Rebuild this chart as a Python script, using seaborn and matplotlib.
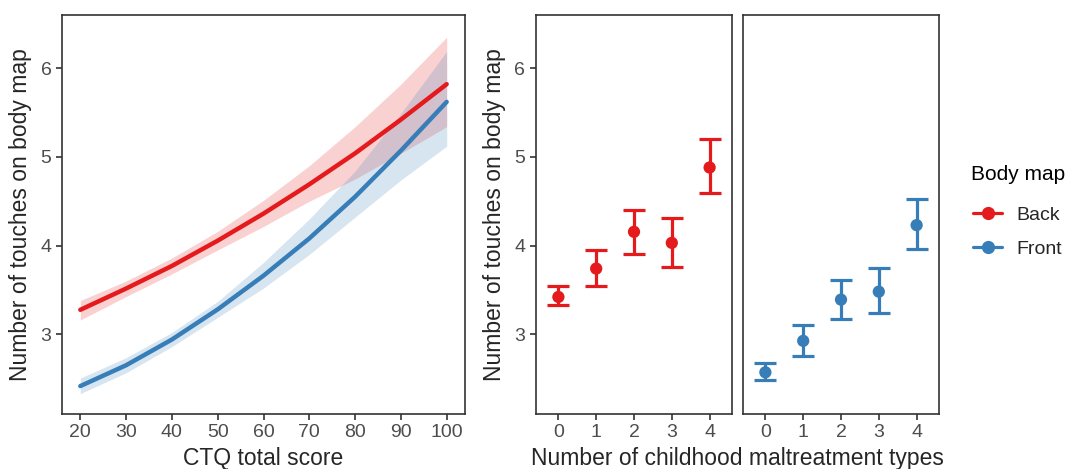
import matplotlib
matplotlib.use("Agg")
import matplotlib.pyplot as plt
from matplotlib.lines import Line2D
import seaborn as sns
import pandas as pd

# ---- data ----
ctq = [20, 30, 40, 50, 60, 70, 80, 90, 100]
back_fit = [3.275, 3.515, 3.77, 4.055, 4.36, 4.69, 5.04, 5.42, 5.82]
back_lo = [3.16, 3.425, 3.68, 3.95, 4.215, 4.50, 4.75, 5.04, 5.34]
back_hi = [3.38, 3.60, 3.86, 4.16, 4.51, 4.90, 5.34, 5.82, 6.35]
front_fit = [2.415, 2.65, 2.94, 3.28, 3.66, 4.08, 4.55, 5.07, 5.62]
front_lo = [2.33, 2.565, 2.86, 3.19, 3.52, 3.90, 4.32, 4.74, 5.12]
front_hi = [2.505, 2.735, 3.02, 3.37, 3.81, 4.30, 4.84, 5.49, 6.19]

n_types = [0, 1, 2, 3, 4]
back_mean = [3.42, 3.74, 4.155, 4.03, 4.88]
back_ci_lo = [3.33, 3.545, 3.91, 3.76, 4.59]
back_ci_hi = [3.54, 3.95, 4.40, 4.31, 5.20]
front_mean = [2.57, 2.925, 3.39, 3.48, 4.23]
front_ci_lo = [2.48, 2.75, 3.17, 3.24, 3.96]
front_ci_hi = [2.67, 3.105, 3.61, 3.75, 4.52]

groups = ["Back", "Front"]
legend_title = "Body map"
RED = "#E41A1C"
BLUE = "#377EB8"
palette = {"Back": RED, "Front": BLUE}

sns.set_theme(style="ticks")
plt.rcParams["font.family"] = ["Liberation Sans", "DejaVu Sans"]

W, H = 1068, 469
fig = plt.figure(figsize=(W / 100, H / 100), dpi=100)

def rect(x0, x1, y0, y1):
    return [x0 / W, 1 - y1 / H, (x1 - x0) / W, (y1 - y0) / H]

ax0 = fig.add_axes(rect(62, 465, 15, 414))
ax1 = fig.add_axes(rect(535.7, 732.3, 15, 414))
ax2 = fig.add_axes(rect(742.7, 939.3, 15, 414))

YLIM = (2.10, 6.60)
EDGE = "#333333"
TICKC = "#4D4D4D"

# ---- left panel: fitted curves with ribbons ----
line_df = pd.DataFrame({
    "CTQ": ctq * 2,
    "fit": back_fit + front_fit,
    "lo": back_lo + front_lo,
    "hi": back_hi + front_hi,
    "Body map": ["Back"] * len(ctq) + ["Front"] * len(ctq),
})
for g in groups:
    d = line_df[line_df["Body map"] == g]
    ax0.fill_between(d["CTQ"], d["lo"], d["hi"], color=palette[g], alpha=0.2, lw=0)
sns.lineplot(data=line_df, x="CTQ", y="fit", hue="Body map", palette=palette,
             ax=ax0, lw=3.2, legend=False, sort=True)
ax0.set_xlim(16, 104)
ax0.set_xticks([20, 30, 40, 50, 60, 70, 80, 90, 100])
ax0.set_xlabel("CTQ total score", fontsize=16.5, labelpad=4)
ax0.set_ylabel("Number of touches on body map", fontsize=16.5, labelpad=6)

# ---- right panels: means with CIs ----
pt_df = pd.DataFrame({
    "types": n_types * 2,
    "mean": back_mean + front_mean,
    "lo": back_ci_lo + front_ci_lo,
    "hi": back_ci_hi + front_ci_hi,
    "Body map": ["Back"] * 5 + ["Front"] * 5,
})
for ax, g in zip([ax1, ax2], groups):
    d = pt_df[pt_df["Body map"] == g]
    ax.errorbar(d["types"], d["mean"],
                yerr=[d["mean"] - d["lo"], d["hi"] - d["mean"]],
                fmt="none", ecolor=palette[g], elinewidth=2.3,
                capsize=7.8, capthick=2.3, zorder=2)
    sns.scatterplot(data=d, x="types", y="mean", color=palette[g], s=78,
                    edgecolor="none", ax=ax, zorder=3, legend=False)
    ax.set_xlim(-0.6, 4.6)
    ax.set_xticks(n_types)
    ax.set_xlabel("")
    ax.set_ylabel("")

ax1.set_ylabel("Number of touches on body map", fontsize=16.5, labelpad=6)
ax2.set_yticks([])
fig.text(737.5 / W, 1 - 458 / H, "Number of childhood maltreatment types",
         ha="center", va="center", fontsize=16.5)

for ax in [ax0, ax1, ax2]:
    ax.set_ylim(*YLIM)
    if ax is not ax2:
        ax.set_yticks([3, 4, 5, 6])
    for s in ax.spines.values():
        s.set_visible(True)
        s.set_color(EDGE)
        s.set_linewidth(1.2)
    ax.tick_params(axis="both", colors=EDGE, labelcolor=TICKC, labelsize=14,
                   length=4.5, width=1.2, pad=3)
    ax.set_facecolor("white")
    ax.grid(False)

# ---- legend ----
fig.text(971 / W, 1 - 175 / H, legend_title, ha="left", va="center",
         fontsize=15, color="black")
handles = [Line2D([0], [0], color=palette[g], lw=2.3, marker="o", markersize=8.5)
           for g in groups]
leg = fig.legend(handles, groups, loc="upper left",
                 bbox_to_anchor=(973 / W, 1 - 206 / H), frameon=False,
                 fontsize=14, handlelength=1.5,
                 labelspacing=0.85, handletextpad=0.75, borderaxespad=0,
                 borderpad=0)

fig.savefig("out.png", dpi=100, facecolor="white")
